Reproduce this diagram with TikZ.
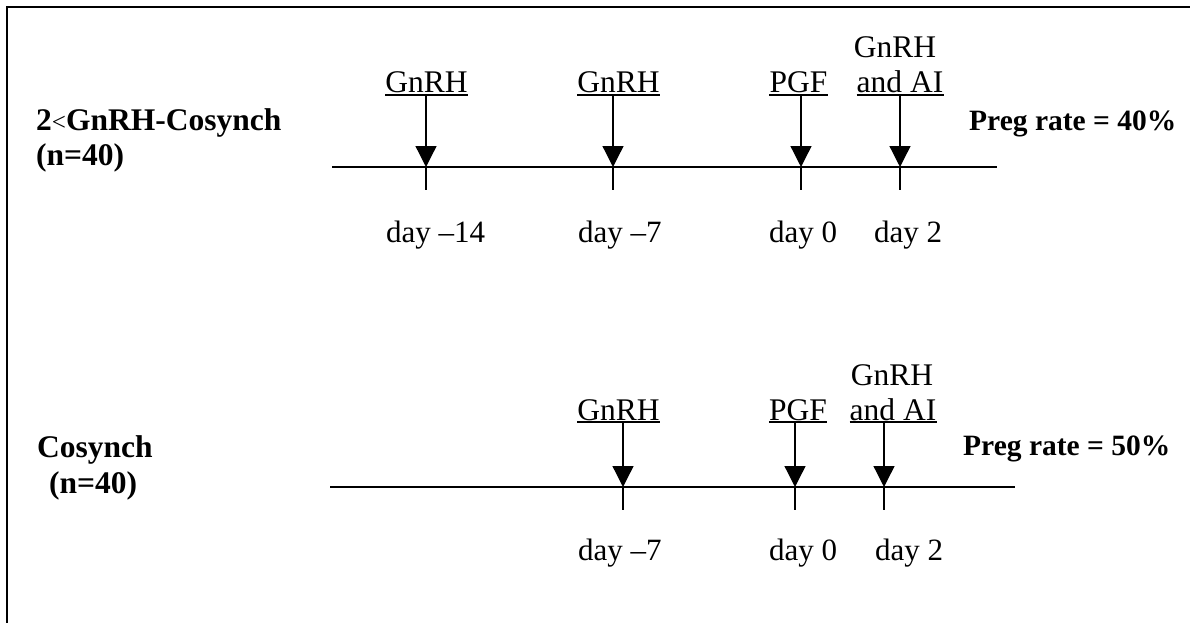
\documentclass[tikz,border=0pt]{standalone}
\usepackage{fontspec}
\setmainfont{Liberation Serif}
\usetikzlibrary{arrows.meta}
\begin{document}
\begin{tikzpicture}[x=1pt,y=-1pt,
  lbl/.style={inner sep=0pt,anchor=base,font=\fontsize{31.5}{36}\selectfont},
  daylbl/.style={inner sep=0pt,anchor=base west,font=\fontsize{31}{36}\selectfont},
  boldlbl/.style={inner sep=0pt,anchor=base west,font=\fontsize{31.5}{36}\selectfont\bfseries},
  preglbl/.style={boldlbl,font=\fontsize{29.5}{36}\selectfont\bfseries},
  timeline/.style={line width=2pt},
  tickmark/.style={line width=1.3pt},
  arr/.style={line width=1.3pt,-{Triangle[width=21pt,length=21pt]}},
  uline/.style={line width=1.2pt},
  frameline/.style={line width=2pt}]
\useasboundingbox (0,0) rectangle (1190,623);
% frame
\draw[frameline] (7,623) -- (7,7) -- (1190,7);

% ===== top row =====
\node[boldlbl] (t1) at (36,130) {2{\mdseries\fontsize{25}{28}\selectfont<}GnRH-Cosynch};
\node[boldlbl] (n1) at (36,165) {(n=40)};
\node[preglbl] (p1) at (969,130) {Preg rate = 40\%};

\coordinate (L1s) at (332,167);
\coordinate (L1e) at (997,167);
\draw[timeline] (L1s) -- (L1e);

\coordinate (a11) at (426,167);
\coordinate (a12) at (613,167);
\coordinate (a13) at (801,167);
\coordinate (a14) at (900,167);

\node[lbl] (g11) at (426.5,93) {GnRH};
\node[lbl] (g12) at (618.5,93) {GnRH};
\node[lbl] (g13) at (798.5,93) {PGF};
\node[lbl] (g14u) at (895,58) {GnRH};
\node[lbl] (g14) at (900,93) {and AI};

\foreach \n in {g11,g12,g13,g14}
  \draw[uline] ([yshift=-2pt]\n.base west) -- ([yshift=-2pt]\n.base east);

\draw[arr] ([yshift=-2pt]g11.base -| a11) -- (a11);
\draw[arr] ([yshift=-2pt]g12.base -| a12) -- (a12);
\draw[arr] ([yshift=-2pt]g13.base -| a13) -- (a13);
\draw[arr] ([yshift=-2pt]g14.base -| a14) -- (a14);
\foreach \c in {a11,a12,a13,a14}
  \draw[tickmark] (\c) -- ++(0,23);

\node[daylbl] (d11) at (386,242) {day –14};
\node[daylbl] (d12) at (578,242) {day –7};
\node[daylbl] (d13) at (769,242) {day 0};
\node[daylbl] (d14) at (874,242) {day 2};

% ===== bottom row =====
\node[boldlbl] (t2) at (37,457) {Cosynch};
\node[boldlbl] (n2) at (49,493) {(n=40)};
\node[preglbl] (p2) at (963,455) {Preg rate = 50\%};

\coordinate (L2s) at (330,487);
\coordinate (L2e) at (1015,487);
\draw[timeline] (L2s) -- (L2e);

\coordinate (a21) at (623,487);
\coordinate (a22) at (795,487);
\coordinate (a23) at (884,487);

\node[lbl] (g21) at (618.5,420) {GnRH};
\node[lbl] (g22) at (798,420) {PGF};
\node[lbl] (g23u) at (892,385) {GnRH};
\node[lbl] (g23) at (893,420) {and AI};

\foreach \n in {g21,g22,g23}
  \draw[uline] ([yshift=-2pt]\n.base west) -- ([yshift=-2pt]\n.base east);

\draw[arr] ([yshift=-2pt]g21.base -| a21) -- (a21);
\draw[arr] ([yshift=-2pt]g22.base -| a22) -- (a22);
\draw[arr] ([yshift=-2pt]g23.base -| a23) -- (a23);
\foreach \c in {a21,a22,a23}
  \draw[tickmark] (\c) -- ++(0,23);

\node[daylbl] (d21) at (578,560) {day –7};
\node[daylbl] (d22) at (769,560) {day 0};
\node[daylbl] (d23) at (875,560) {day 2};
\end{tikzpicture}
\end{document}
